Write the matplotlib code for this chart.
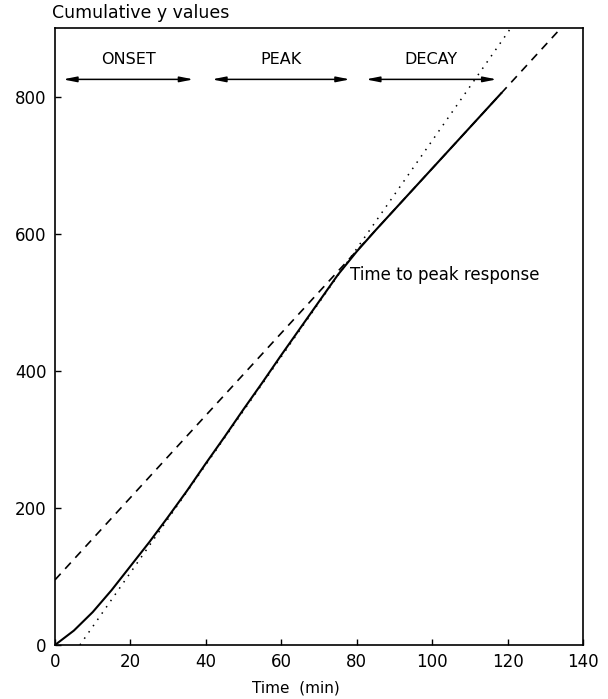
import matplotlib
matplotlib.use("Agg")
import matplotlib.pyplot as plt

# cumulative response curve
t_curve = [0, 5, 10, 15, 20, 25, 30, 35, 40, 45, 50, 55, 60, 65, 70, 75, 80,
           85, 90, 95, 100, 105, 110, 115, 118.5]
y_curve = [0, 21, 48, 80, 115, 150, 187, 225, 265, 304, 344, 383, 423, 462,
           501, 540, 574, 605, 635, 665, 695, 725, 755, 785, 806]

# late asymptote (dashed) and tangent at inflection (dotted)
t_dash = [0, 136]
y_dash = [95, 911]
t_dot = [6.6, 122]
y_dot = [0, 909]

# phase arrows: (label, start, end)
phases = [("ONSET", 2.1, 36.7), ("PEAK", 41.6, 78.2), ("DECAY", 82.4, 117.1)]
arrow_y = 825
label_y = 854

fig = plt.figure(figsize=(6.08, 6.99), dpi=100)
ax = fig.add_axes([0.0905, 0.0773, 0.8685, 0.8827])

ax.plot(t_curve, y_curve, color="black", lw=1.5, solid_capstyle="butt")
ax.plot(t_dash, y_dash, color="black", lw=1.2, linestyle=(0, (5, 4)))
ax.plot(t_dot, y_dot, color="black", lw=1.1, linestyle=(0, (1, 4)))

for name, a, b in phases:
    ax.annotate("", xy=(b, arrow_y), xytext=(a, arrow_y),
                arrowprops=dict(arrowstyle="<|-|>,head_length=0.8,head_width=0.16",
                                color="black", lw=1.1, shrinkA=0, shrinkB=0))
    ax.text((a + b) / 2, label_y, name, ha="center", va="center", fontsize=11.5)

ax.text(78.2, 539, "Time to peak response", ha="left", va="center", fontsize=12)

ax.set_xlim(0, 140)
ax.set_ylim(0, 900)
ax.set_xticks(range(0, 141, 20))
ax.set_yticks(range(0, 801, 200))
ax.tick_params(direction="in", length=4, width=1, labelsize=12, pad=6,
               top=False, right=False)
for s in ax.spines.values():
    s.set_linewidth(1.2)

fig.text(52 / 608, 1 - 13 / 699, "Cumulative y values", ha="left", va="center",
         fontsize=12.5)
fig.text(296 / 608, 1 - 688 / 699, "Time  (min)", ha="center", va="center",
         fontsize=11)

fig.savefig("out.png", dpi=100)
